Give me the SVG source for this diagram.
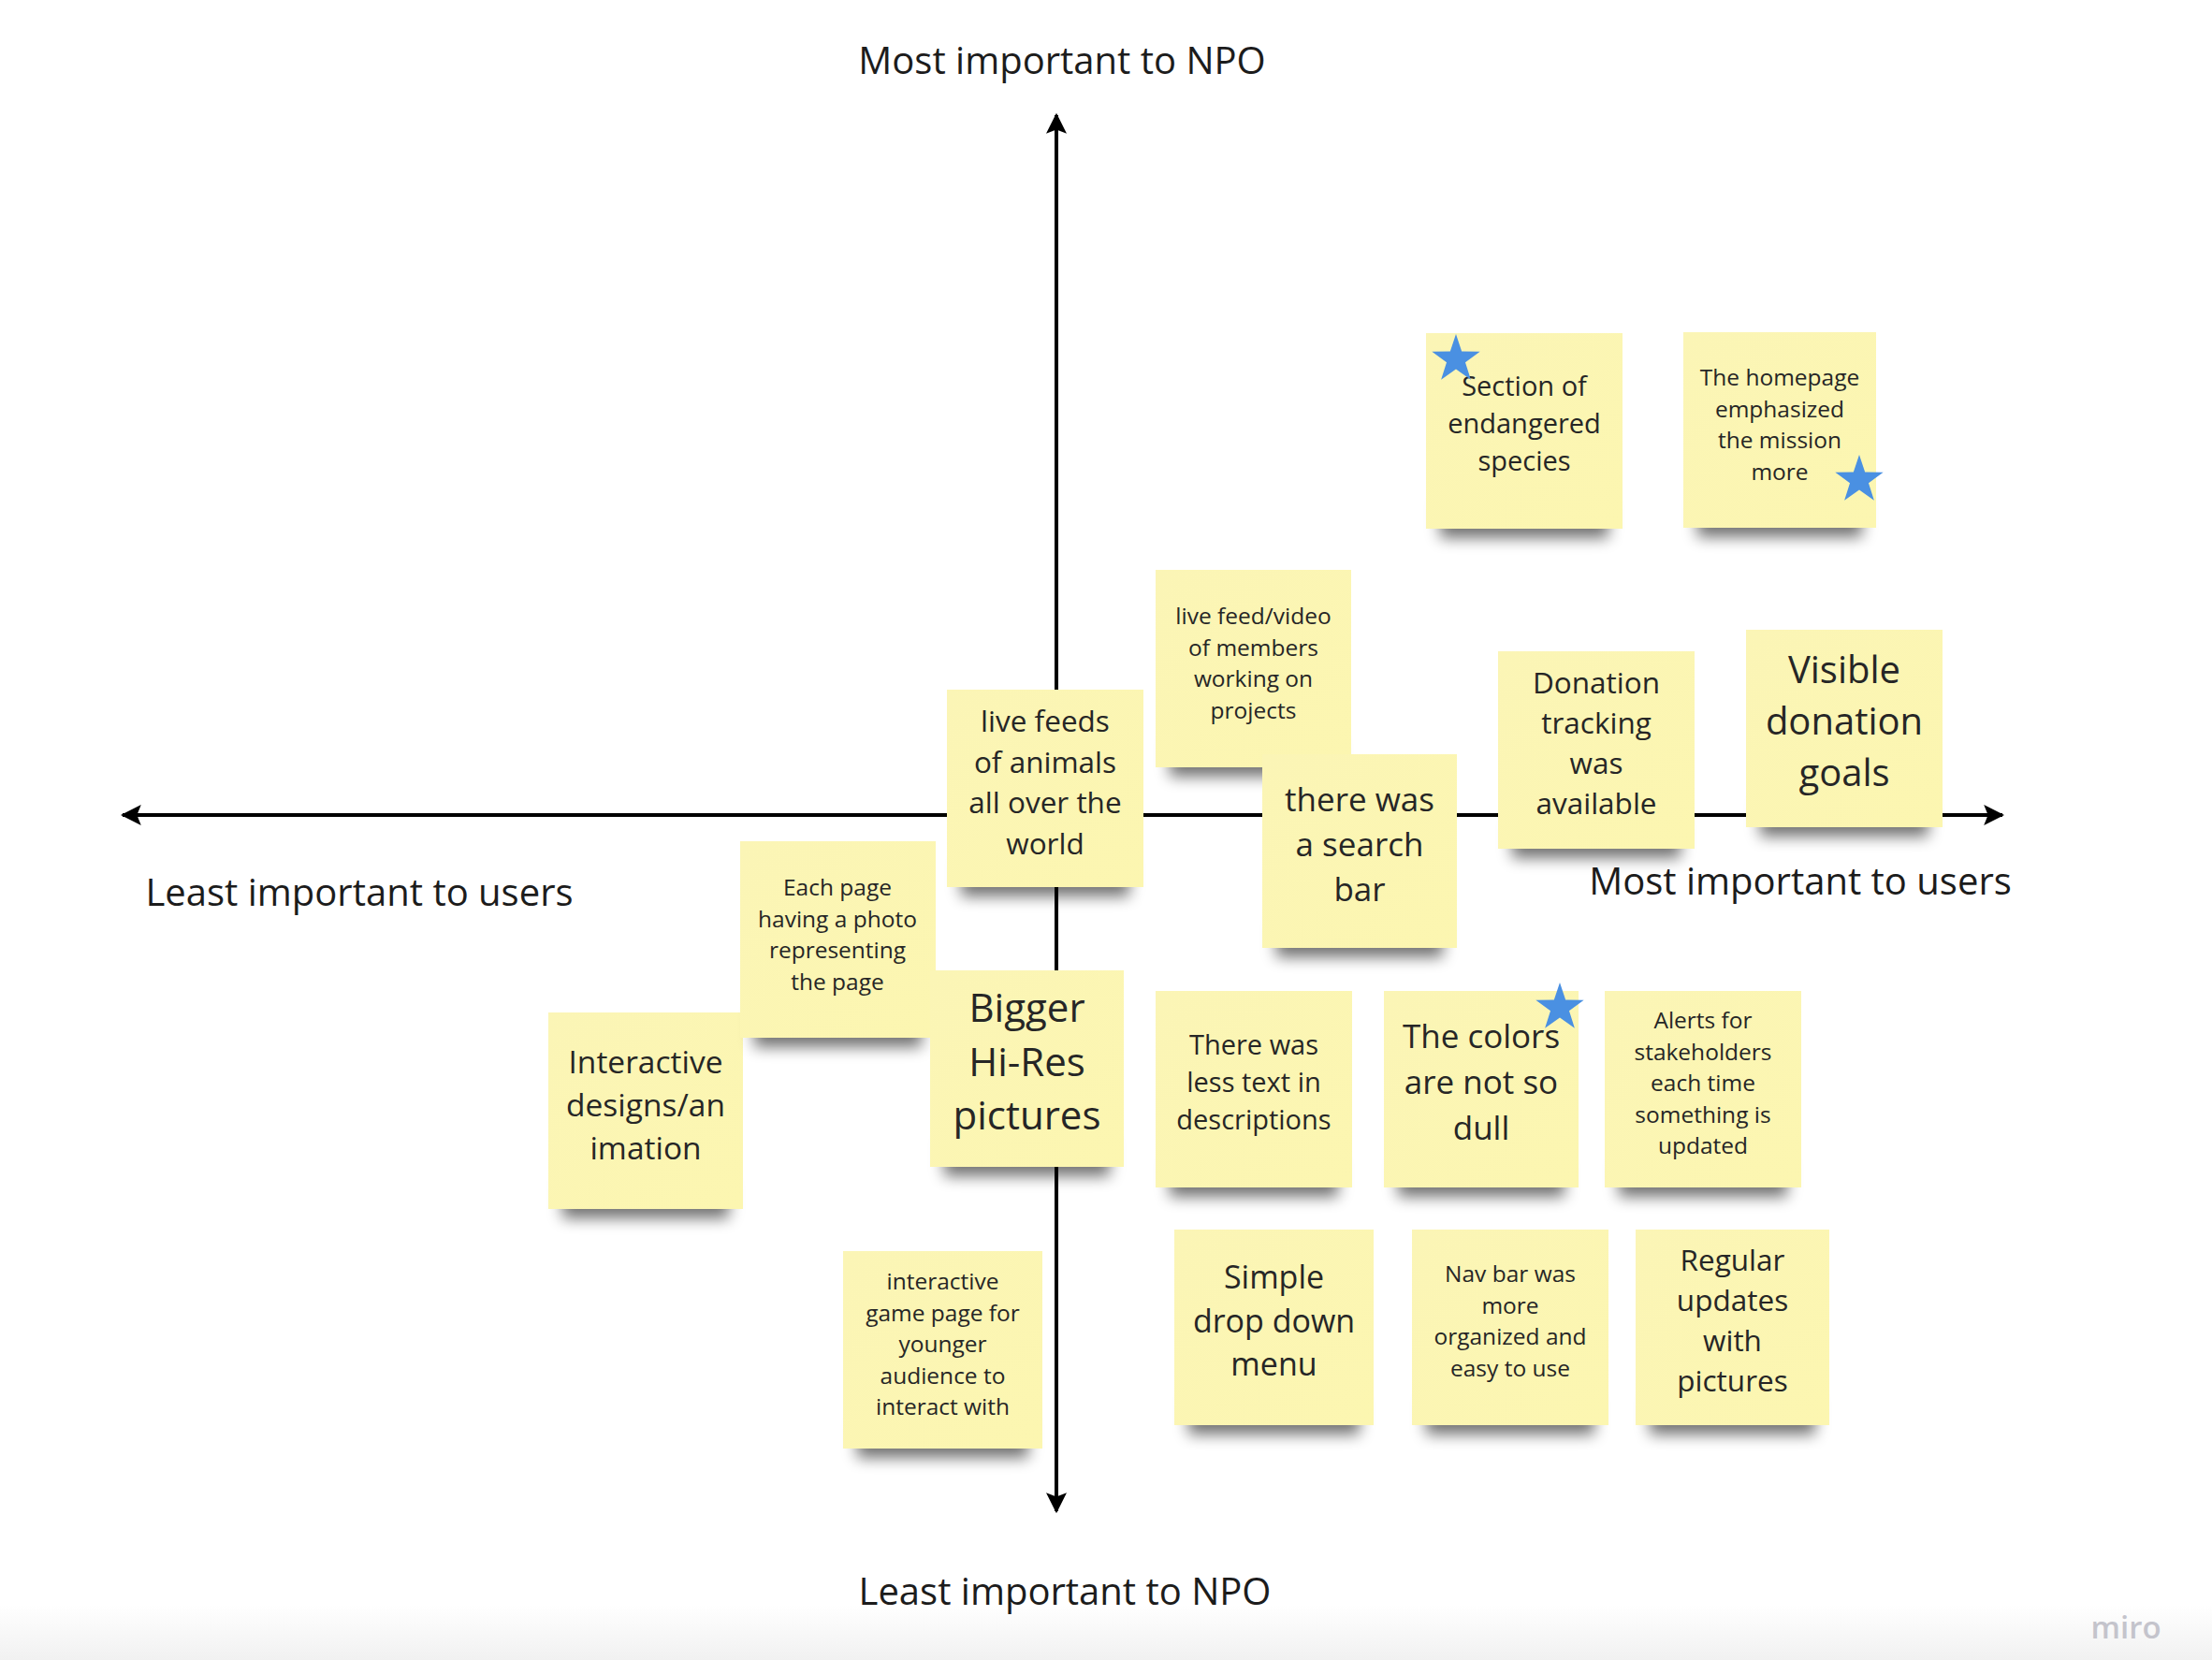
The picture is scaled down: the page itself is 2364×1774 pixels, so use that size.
<svg xmlns="http://www.w3.org/2000/svg" width="2364" height="1774" viewBox="0 0 2364 1774">
<style>
.lbl{font-family:"Open Sans","Liberation Sans",sans-serif;font-size:40px;fill:#1c1c1c;text-anchor:middle}
.st{font-family:"Open Sans","Liberation Sans",sans-serif;fill:#262626;text-anchor:middle}
.note{fill:url(#ng)}
.shd{fill:#000;opacity:0.55;filter:url(#blur)}
.axis{stroke:#000;stroke-width:4;fill:none}
.star{fill:#4a90e2}
</style>
<defs>
<linearGradient id="ng" x1="0" y1="0" x2="1" y2="1">
<stop offset="0" stop-color="#fbf5b6"/>
<stop offset="1" stop-color="#fcf6b0"/>
</linearGradient>
<linearGradient id="bg" x1="0" y1="0" x2="0" y2="1">
<stop offset="0" stop-color="#ffffff"/>
<stop offset="1" stop-color="#f1f1f1"/>
</linearGradient>
<filter id="blur" x="-20%" y="-50%" width="140%" height="200%">
<feGaussianBlur stdDeviation="8"/>
</filter>
<marker id="ah" viewBox="0 0 10 10" refX="9" refY="5" markerWidth="5.5" markerHeight="5.5" markerUnits="strokeWidth" orient="auto">
<path d="M0,0 L10,5 L0,10 L2,5 Z" fill="#000"/>
</marker>
<path id="star" d="M0,-27 L6.17,-8.49 L25.68,-8.34 L9.99,3.24 L15.87,21.84 L0,10.5 L-15.87,21.84 L-9.99,3.24 L-25.68,-8.34 L-6.17,-8.49 Z"/>
</defs>
<rect width="2364" height="1774" fill="#ffffff"/>
<rect x="0" y="1715" width="2364" height="59" fill="url(#bg)"/>

<g id="axis-labels">
<text class="lbl" x="1135" y="79">Most important to NPO</text>
<text class="lbl" x="1138" y="1715">Least important to NPO</text>
<text class="lbl" x="384" y="968">Least important to users</text>
<text class="lbl" x="1924" y="956">Most important to users</text>
</g>

<g id="connectors">
<line class="axis" x1="1129" y1="871" x2="131" y2="871" marker-end="url(#ah)"/>
<line class="axis" x1="1129" y1="871" x2="2140" y2="871" marker-end="url(#ah)"/>
<line class="axis" x1="1129" y1="871" x2="1129" y2="123" marker-end="url(#ah)"/>
<line class="axis" x1="1129" y1="871" x2="1129" y2="1615" marker-end="url(#ah)"/>
</g>

<g id="note-interactive-designs">
<rect class="shd" x="601" y="1262" width="178" height="40"/>
<rect class="note" x="586" y="1082" width="208" height="210"/>
<text class="st" font-size="33.5"><tspan x="690" y="1147">Interactive</tspan><tspan x="690" y="1193">designs/an</tspan><tspan x="690" y="1239">imation</tspan></text>
</g>

<g id="note-each-page">
<rect class="shd" x="806" y="1079" width="179" height="40"/>
<rect class="note" x="791" y="899" width="209" height="210"/>
<text class="st" font-size="24.5"><tspan x="895" y="957">Each page</tspan><tspan x="895" y="990.5">having a photo</tspan><tspan x="895" y="1024">representing</tspan><tspan x="895" y="1057.5">the page</tspan></text>
</g>

<g id="note-live-feeds-animals">
<rect class="shd" x="1027" y="918" width="180" height="40"/>
<rect class="note" x="1012" y="737" width="210" height="211"/>
<text class="st" font-size="31.5"><tspan x="1117" y="782">live feeds</tspan><tspan x="1117" y="825.5">of animals</tspan><tspan x="1117" y="869">all over the</tspan><tspan x="1117" y="912.5">world</tspan></text>
</g>

<g id="note-bigger-hires">
<rect class="shd" x="1009" y="1217" width="177" height="40"/>
<rect class="note" x="994" y="1037" width="207" height="210"/>
<text class="st" font-size="42"><tspan x="1097.5" y="1092">Bigger</tspan><tspan x="1097.5" y="1149.5">Hi-Res</tspan><tspan x="1097.5" y="1207">pictures</tspan></text>
</g>

<g id="note-interactive-game">
<rect class="shd" x="916" y="1518" width="183" height="40"/>
<rect class="note" x="901" y="1337" width="213" height="211"/>
<text class="st" font-size="24.5"><tspan x="1007.5" y="1378">interactive</tspan><tspan x="1007.5" y="1411.5">game page for</tspan><tspan x="1007.5" y="1445">younger</tspan><tspan x="1007.5" y="1478.5">audience to</tspan><tspan x="1007.5" y="1512">interact with</tspan></text>
</g>

<g id="note-live-feed-video">
<rect class="shd" x="1250" y="790" width="179" height="40"/>
<rect class="note" x="1235" y="609" width="209" height="211"/>
<text class="st" font-size="24.5"><tspan x="1339.5" y="667">live feed/video</tspan><tspan x="1339.5" y="700.5">of members</tspan><tspan x="1339.5" y="734">working on</tspan><tspan x="1339.5" y="767.5">projects</tspan></text>
</g>

<g id="note-search-bar">
<rect class="shd" x="1364" y="983" width="178" height="40"/>
<rect class="note" x="1349" y="806" width="208" height="207"/>
<text class="st" font-size="35"><tspan x="1453" y="867">there was</tspan><tspan x="1453" y="915">a search</tspan><tspan x="1453" y="963">bar</tspan></text>
</g>

<g id="note-section-endangered">
<rect class="shd" x="1539" y="535" width="180" height="40"/>
<rect class="note" x="1524" y="356" width="210" height="209"/>
<text class="st" font-size="29"><tspan x="1629" y="423">Section of</tspan><tspan x="1629" y="463">endangered</tspan><tspan x="1629" y="503">species</tspan></text>
<use href="#star" class="star" x="1556" y="384"/>
</g>

<g id="note-homepage-mission">
<rect class="shd" x="1814" y="534" width="176" height="40"/>
<rect class="note" x="1799" y="355" width="206" height="209"/>
<text class="st" font-size="24.5"><tspan x="1902" y="412">The homepage</tspan><tspan x="1902" y="445.5">emphasized</tspan><tspan x="1902" y="479">the mission</tspan><tspan x="1902" y="512.5">more</tspan></text>
<use href="#star" class="star" x="1987" y="513"/>
</g>

<g id="note-donation-tracking">
<rect class="shd" x="1616" y="877" width="180" height="40"/>
<rect class="note" x="1601" y="696" width="210" height="211"/>
<text class="st" font-size="31.5"><tspan x="1706" y="741">Donation</tspan><tspan x="1706" y="784">tracking</tspan><tspan x="1706" y="827">was</tspan><tspan x="1706" y="870">available</tspan></text>
</g>

<g id="note-visible-donation">
<rect class="shd" x="1881" y="854" width="180" height="40"/>
<rect class="note" x="1866" y="673" width="210" height="211"/>
<text class="st" font-size="40"><tspan x="1971" y="730">Visible</tspan><tspan x="1971" y="785">donation</tspan><tspan x="1971" y="840">goals</tspan></text>
</g>

<g id="note-less-text">
<rect class="shd" x="1250" y="1239" width="180" height="40"/>
<rect class="note" x="1235" y="1059" width="210" height="210"/>
<text class="st" font-size="29"><tspan x="1340" y="1127">There was</tspan><tspan x="1340" y="1167">less text in</tspan><tspan x="1340" y="1207">descriptions</tspan></text>
</g>

<g id="note-colors-not-dull">
<rect class="shd" x="1494" y="1239" width="178" height="40"/>
<rect class="note" x="1479" y="1059" width="208" height="210"/>
<text class="st" font-size="35"><tspan x="1583" y="1120">The colors</tspan><tspan x="1583" y="1169">are not so</tspan><tspan x="1583" y="1218">dull</tspan></text>
<use href="#star" class="star" x="1667" y="1077"/>
</g>

<g id="note-alerts-stakeholders">
<rect class="shd" x="1730" y="1239" width="180" height="40"/>
<rect class="note" x="1715" y="1059" width="210" height="210"/>
<text class="st" font-size="24.5"><tspan x="1820" y="1099">Alerts for</tspan><tspan x="1820" y="1132.5">stakeholders</tspan><tspan x="1820" y="1166">each time</tspan><tspan x="1820" y="1199.5">something is</tspan><tspan x="1820" y="1233">updated</tspan></text>
</g>

<g id="note-simple-dropdown">
<rect class="shd" x="1270" y="1493" width="183" height="40"/>
<rect class="note" x="1255" y="1314" width="213" height="209"/>
<text class="st" font-size="34"><tspan x="1361.5" y="1377">Simple</tspan><tspan x="1361.5" y="1423.5">drop down</tspan><tspan x="1361.5" y="1470">menu</tspan></text>
</g>

<g id="note-nav-bar">
<rect class="shd" x="1524" y="1493" width="180" height="40"/>
<rect class="note" x="1509" y="1314" width="210" height="209"/>
<text class="st" font-size="24.5"><tspan x="1614" y="1370">Nav bar was</tspan><tspan x="1614" y="1403.5">more</tspan><tspan x="1614" y="1437">organized and</tspan><tspan x="1614" y="1470.5">easy to use</tspan></text>
</g>

<g id="note-regular-updates">
<rect class="shd" x="1763" y="1493" width="177" height="40"/>
<rect class="note" x="1748" y="1314" width="207" height="209"/>
<text class="st" font-size="31.5"><tspan x="1851.5" y="1358">Regular</tspan><tspan x="1851.5" y="1401">updates</tspan><tspan x="1851.5" y="1444">with</tspan><tspan x="1851.5" y="1487">pictures</tspan></text>
</g>

<text x="2272" y="1751" font-family="'Open Sans','Liberation Sans',sans-serif" font-size="33" font-weight="600" fill="#c4c4cc" text-anchor="middle">miro</text>
</svg>
